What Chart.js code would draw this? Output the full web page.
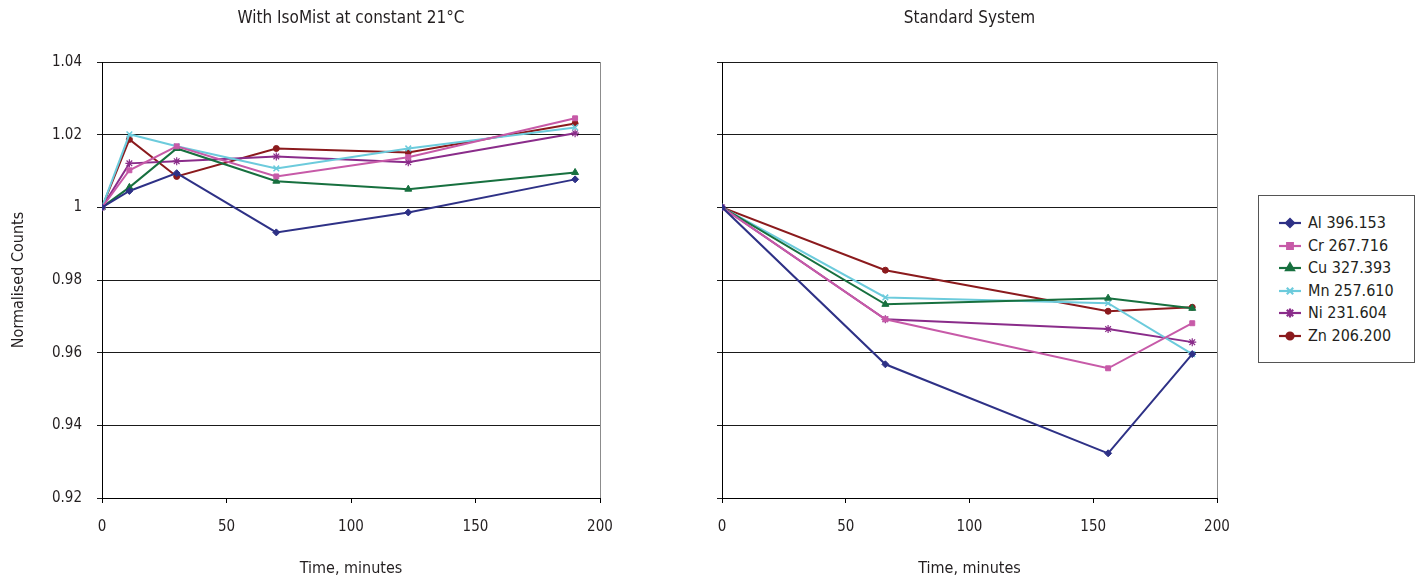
<!DOCTYPE html>
<html><head><meta charset="utf-8">
<script src="https://cdn.jsdelivr.net/npm/chart.js@4.4.1/dist/chart.umd.min.js"></script>
<style>
html,body{margin:0;padding:0;background:#fff;}
body{width:1420px;height:578px;position:relative;overflow:hidden;font-family:'Liberation Sans Narrow','DejaVu Sans Condensed',sans-serif;color:#231f20;}
#w1{position:absolute;left:0;top:0;width:640px;height:578px;}
#w2{position:absolute;left:620px;top:0;width:630px;height:578px;}
#legend{position:absolute;left:1258px;top:195px;width:157px;height:168px;border:1px solid #555;box-sizing:border-box;}
.row{position:absolute;left:0;height:20px;width:150px;}
.row canvas{position:absolute;left:18px;top:2px;}
.row span{position:absolute;left:49px;top:0;font-size:16px;line-height:20px;white-space:nowrap;}
</style></head><body>
<div id="w1"><canvas id="c1"></canvas></div>
<div id="w2"><canvas id="c2"></canvas></div>
<div id="legend"></div>
<script>
// ---- data ----
const seriesNames = ['Al 396.153','Cr 267.716','Cu 327.393','Mn 257.610','Ni 231.604','Zn 206.200'];
const leftTimes  = [0, 11, 30, 70, 123, 190];
const rightTimes = [0, 66, 156, 190];
const leftAl = [1.000, 1.0045, 1.0094, 0.9931, 0.9986, 1.0077];
const leftCr = [1.000, 1.0102, 1.0168, 1.0085, 1.0138, 1.0245];
const leftCu = [1.000, 1.0055, 1.0162, 1.0072, 1.0050, 1.0096];
const leftMn = [1.000, 1.0201, 1.0168, 1.0107, 1.0162, 1.0220];
const leftNi = [1.000, 1.0121, 1.0127, 1.0140, 1.0124, 1.0204];
const leftZn = [1.000, 1.0187, 1.0085, 1.0162, 1.0151, 1.0231];
const rightAl = [1.000, 0.9568, 0.9323, 0.9596];
const rightCr = [1.000, 0.9692, 0.9557, 0.9681];
const rightCu = [1.000, 0.9733, 0.9750, 0.9722];
const rightMn = [1.000, 0.9752, 0.9736, 0.9596];
const rightNi = [1.000, 0.9692, 0.9665, 0.9629];
const rightZn = [1.000, 0.9827, 0.9714, 0.9725];
const xTickStep = 50, xMin = 0, xMax = 200;
const yMin = 0.92, yMax = 1.04, yStep = 0.02;
const titles = ['With IsoMist at constant 21°C', 'Standard System'];
const xTitle = 'Time, minutes';
const yTitle = 'Normalised Counts';

// ---- styles ----
const FONT = "'Liberation Sans Narrow','DejaVu Sans Condensed',sans-serif";
const TXT = '#231f20';
const styles = [
  {color:'#2e3186', pointStyle:'rectRot', radius:3.5, bw:1},
  {color:'#c75aa8', pointStyle:'rect', radius:3.5, bw:1},
  {color:'#17703f', pointStyle:'triangle', radius:4, bw:1},
  {color:'#6ccbdc', pointStyle:'crossRot', radius:4, bw:1.5},
  {color:'#8a2c8a', pointStyle:'star', radius:4, bw:1.2},
  {color:'#8b1a1d', pointStyle:'circle', radius:3, bw:1}
];

function mkDatasets(times, arrs){
  return arrs.map((vals,i)=>({
    label: seriesNames[i],
    data: times.map((t,j)=>({x:t, y:vals[j]})),
    borderColor: styles[i].color,
    backgroundColor: styles[i].color,
    borderWidth: 2,
    pointStyle: styles[i].pointStyle,
    pointRadius: styles[i].radius,
    pointBorderWidth: styles[i].bw,
    pointBackgroundColor: styles[i].color,
    pointBorderColor: styles[i].color,
    tension: 0
  }));
}

const frame = {
  id:'frame',
  beforeDatasetsDraw(chart){
    const {ctx, chartArea:a} = chart;
    ctx.save();
    ctx.strokeStyle = '#8c8c8c';
    ctx.lineWidth = 1;
    ctx.beginPath();
    ctx.moveTo(Math.round(a.right)+0.5, Math.round(a.top));
    ctx.lineTo(Math.round(a.right)+0.5, Math.round(a.bottom));
    ctx.stroke();
    ctx.restore();
  }
};

function mkChart(id, times, arrs, title, showY, padRight){
  return new Chart(document.getElementById(id), {
    type:'line',
    data:{datasets: mkDatasets(times, arrs)},
    plugins:[frame],
    options:{
      responsive:true, maintainAspectRatio:false, animation:false,
      layout:{padding:{left:0, right:padRight, top:0, bottom:0}},
      plugins:{
        legend:{display:false}, tooltip:{enabled:false},
        title:{display:true, fullSize:false, text:title, color:TXT, font:{family:FONT, size:17, weight:'normal'}, padding:{top:8, bottom:33.6}}
      },
      scales:{
        x:{type:'linear', min:xMin, max:xMax,
           afterFit(s){ s.height = 80; },
           ticks:{stepSize:xTickStep, color:TXT, font:{family:FONT, size:15}, padding:15, maxRotation:0},
           grid:{drawOnChartArea:false, tickLength:5, color:'#000'},
           border:{display:true, color:'#000', width:1},
           title:{display:true, text:xTitle, color:TXT, font:{family:FONT, size:16}, padding:{top:0,bottom:0}}
        },
        y:{type:'linear', min:yMin, max:yMax,
           afterFit(s){ s.width = 102; },
           ticks:{stepSize:yStep, color: showY?TXT:'rgba(0,0,0,0)', font:{family:FONT, size:15}, padding:15,
                  callback:v=>String(+v.toFixed(2))},
           grid:{drawOnChartArea:true, tickLength:5, color:'#1a1a1a', lineWidth:1},
           border:{display:true, color:'#000', width:1},
           title:{display:showY, text:yTitle, color:TXT, font:{family:FONT, size:16}, padding:{top:9,bottom:0}}
        }
      }
    }
  });
}

mkChart('c1', leftTimes, [leftAl,leftCr,leftCu,leftMn,leftNi,leftZn], titles[0], true, 40);
mkChart('c2', rightTimes, [rightAl,rightCr,rightCu,rightMn,rightNi,rightZn], titles[1], false, 33);

// ---- legend ----
const lg = document.getElementById('legend');
seriesNames.forEach((name,i)=>{
  const row = document.createElement('div');
  row.className='row';
  row.style.top = (17 + i*22.6) + 'px';
  const cv = document.createElement('canvas');
  cv.width = 26; cv.height = 16;
  const ctx = cv.getContext('2d');
  ctx.strokeStyle = styles[i].color; ctx.lineWidth = 2.2;
  ctx.beginPath(); ctx.moveTo(2,8); ctx.lineTo(24,8); ctx.stroke();
  ctx.fillStyle = styles[i].color;
  Chart.helpers.drawPoint(ctx, {pointStyle:styles[i].pointStyle, radius:styles[i].radius+0.5, borderWidth:styles[i].bw+0.3, rotation:0}, 13, 8);
  row.appendChild(cv);
  const sp = document.createElement('span'); sp.textContent = name; row.appendChild(sp);
  lg.appendChild(row);
});
</script>
</body></html>
